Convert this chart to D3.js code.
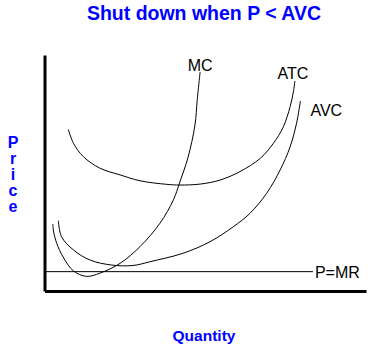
<!DOCTYPE html>
<html>
<head>
<meta charset="utf-8">
<script src="https://cdn.jsdelivr.net/npm/d3@7"></script>
<style>
  html, body { margin: 0; padding: 0; background: #fff; }
  svg { display: block; }
  text { font-family: "Liberation Sans", Arial, sans-serif; }
</style>
</head>
<body>
<svg id="chart" width="381" height="351"></svg>
<script>
// ---- Data (quantity, price) ----
const titleText = "Shut down when P < AVC";
const xLabel = "Quantity";
const yLabel = "Price";

const mcQ = [0.26, 0.28, 0.38, 0.58, 0.90, 1.31, 1.73, 2.35, 2.97, 3.59, 4.01, 4.20, 4.46, 4.68, 4.75, 4.84];
const mcP = [2.84, 2.54, 2.02, 1.44, 0.85, 0.62, 0.76, 1.17, 1.88, 2.87, 3.86, 4.58, 5.64, 7.03, 8.09, 9.28];

const atcQ = [0.74, 0.90, 1.21, 1.73, 2.35, 2.97, 3.80, 4.21, 4.84, 5.46, 6.08, 6.71, 7.12, 7.43, 7.64, 7.74, 7.79];
const atcP = [6.85, 6.26, 5.69, 5.20, 4.92, 4.67, 4.52, 4.49, 4.53, 4.70, 5.06, 5.62, 6.26, 6.96, 7.81, 8.43, 8.90];

const avcQ = [0.43, 0.53, 0.90, 1.42, 2.09, 2.75, 3.28, 4.31, 5.15, 5.87, 6.39, 6.91, 7.33, 7.64, 7.84, 7.96];
const avcP = [2.98, 2.30, 1.74, 1.31, 1.10, 1.08, 1.24, 1.60, 2.09, 2.72, 3.29, 4.14, 5.13, 6.11, 7.11, 8.05];

const priceLevel = 0.82;      // P = MR
const priceLineEndQ = 8.35;

const curveNames = ["MC", "ATC", "AVC"];
const priceLabel = "P=MR";

// ---- Layout ----
const svg = d3.select("#chart");
const x = d3.scaleLinear().domain([0, 10]).range([44.5, 366]);
const y = d3.scaleLinear().domain([0, 10]).range([291, 55]);

const zip = (qs, ps) => qs.map((q, i) => [q, ps[i]]);
const series = [zip(mcQ, mcP), zip(atcQ, atcP), zip(avcQ, avcP)];

const line = d3.line()
  .x(d => x(d[0]))
  .y(d => y(d[1]))
  .curve(d3.curveCatmullRom.alpha(0.5));

// Title
svg.append("text")
  .attr("x", 204).attr("y", 20)
  .attr("text-anchor", "middle")
  .attr("font-size", 19.5).attr("font-weight", "bold")
  .attr("fill", "#0000ff")
  .text(titleText);

// Axis titles
svg.append("text")
  .attr("x", 204).attr("y", 341)
  .attr("text-anchor", "middle")
  .attr("font-size", 15.5).attr("font-weight", "bold")
  .attr("fill", "#0000ff")
  .text(xLabel);

const yl = svg.append("text")
  .attr("text-anchor", "middle")
  .attr("font-size", 16).attr("font-weight", "bold")
  .attr("fill", "#0000ff");
yLabel.split("").forEach((ch, i) => {
  yl.append("tspan").attr("x", 13).attr("y", 148 + i * 16).text(ch);
});

// Axes (no ticks)
const xAxis = d3.axisBottom(x).tickValues([]).tickSizeOuter(0);
const yAxis = d3.axisLeft(y).tickValues([]).tickSizeOuter(0);
svg.append("g").attr("transform", `translate(0,${y(0)})`).call(xAxis)
  .select(".domain").attr("stroke", "#000").attr("stroke-width", 3);
svg.append("g").attr("transform", `translate(${x(0)},0)`).call(yAxis)
  .select(".domain").attr("stroke", "#000").attr("stroke-width", 3);

// Price line
svg.append("line")
  .attr("x1", x(0)).attr("x2", x(priceLineEndQ))
  .attr("y1", y(priceLevel)).attr("y2", y(priceLevel))
  .attr("stroke", "#000").attr("stroke-width", 1);
svg.append("text")
  .attr("x", x(priceLineEndQ) + 2).attr("y", y(priceLevel) + 6)
  .attr("font-size", 16).attr("fill", "#000")
  .text(priceLabel);

// Cost curves
series.forEach(s => {
  svg.append("path")
    .attr("d", line(s))
    .attr("fill", "none")
    .attr("stroke", "#000")
    .attr("stroke-width", 1);
});

// Curve labels
const mcTop = series[0][series[0].length - 1];
const atcTop = series[1][series[1].length - 1];
const avcTop = series[2][series[2].length - 1];
svg.append("text").attr("x", x(mcTop[0])).attr("y", y(mcTop[1]) - 1)
  .attr("text-anchor", "middle").attr("font-size", 16).text(curveNames[0]);
svg.append("text").attr("x", x(atcTop[0]) - 2).attr("y", y(atcTop[1]) - 2)
  .attr("text-anchor", "middle").attr("font-size", 16).text(curveNames[1]);
svg.append("text").attr("x", x(avcTop[0]) + 10).attr("y", y(avcTop[1]) + 15)
  .attr("text-anchor", "start").attr("font-size", 16).text(curveNames[2]);
</script>
</body>
</html>
